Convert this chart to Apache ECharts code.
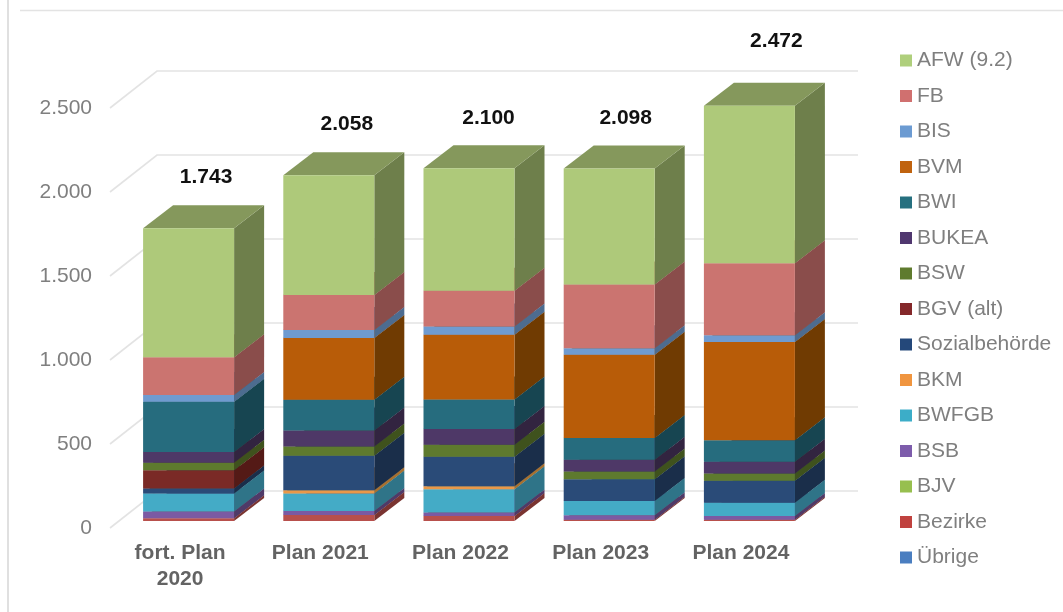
<!DOCTYPE html>
<html>
<head>
<meta charset="utf-8">
<style>html,body{margin:0;padding:0;background:#fff}#c{width:1063px;height:612px}</style>
<script src="https://cdn.jsdelivr.net/npm/echarts@6/dist/echarts.min.js"></script>
</head>
<body>
<div id="c"></div>
<script>
var categories = ['fort. Plan\n2020', 'Plan 2021', 'Plan 2022', 'Plan 2023', 'Plan 2024'];
var totals = [1743, 2058, 2100, 2098, 2472];
var yTicks = [0, 500, 1000, 1500, 2000, 2500];
var legendOrder = ['AFW (9.2)','FB','BIS','BVM','BWI','BUKEA','BSW','BGV (alt)','Sozialbehörde','BKM','BWFGB','BSB','BJV','Bezirke','Übrige'];

var uebrige = [0, 0, 0, 0, 0];
var bezirke = [16, 36, 30, 8, 8];
var bjv = [0, 0, 0, 0, 0];
var bsb = [40, 24, 20, 26, 22];
var bwfgb = [107, 103, 139, 85, 79];
var bkm = [0, 20, 18, 0, 0];
var sozial = [30, 206, 176, 129, 131];
var bgv = [109, 0, 0, 0, 0];
var bsw = [44, 55, 71, 46, 42];
var bukea = [65, 95, 93, 71, 71];
var bwi = [299, 182, 176, 129, 127];
var bvm = [0, 368, 386, 495, 586];
var bis = [40, 48, 48, 40, 40];
var fb = [224, 208, 214, 379, 428];
var afw = [769, 713, 729, 690, 938];

// bottom-to-top stacking: name, values, front / top / side colour
var stackOrder = [
  ['Übrige', uebrige, '#4478B8', '#35608F', '#2B4E75'],
  ['Bezirke', bezirke, '#B8504C', '#8F3E3B', '#7A3431'],
  ['BJV', bjv, '#96BC50', '#75923E', '#5F7832'],
  ['BSB', bsb, '#7B5AA3', '#60467F', '#4F3A68'],
  ['BWFGB', bwfgb, '#44ABC6', '#35859A', '#2F7488'],
  ['BKM', bkm, '#E99849', '#B57639', '#A8702F'],
  ['Sozialbehörde', sozial, '#2A4B78', '#213A5D', '#1A2E4A'],
  ['BGV (alt)', bgv, '#7A2A26', '#5F211E', '#541A16'],
  ['BSW', bsw, '#5E7A2E', '#495F24', '#3F521D'],
  ['BUKEA', bukea, '#4E3867', '#3D2C50', '#322440'],
  ['BWI', bwi, '#266C7E', '#1E5462', '#174551'],
  ['BVM', bvm, '#B85C08', '#8F4706', '#703B02'],
  ['BIS', bis, '#6F9BD0', '#5679A2', '#4D6C90'],
  ['FB', fb, '#CB7470', '#9E5A57', '#8A4D4B'],
  ['AFW (9.2)', afw, '#AEC97A', '#85985C', '#6E7F4B']
];

var legendColors = {'AFW (9.2)':'#AFCF7C','FB':'#D0706F','BIS':'#6C9BD2','BVM':'#C0630F','BWI':'#26707F','BUKEA':'#50376F','BSW':'#5F7B2E','BGV (alt)':'#84282A','Sozialbehörde':'#24487A','BKM':'#F0953F','BWFGB':'#3CADC8','BSB':'#7D5CAB','BJV':'#97BF4F','Bezirke':'#C0423F','Übrige':'#4A7EC0'};

// label offsets for the totals, relative to the back centre of the bar top
var totalDx = [2.5, 3, 4.5, 1.5, 12];
var totalDy = [-28, -28, -27, -27, -42];

var GRID = {left: 110, right: 252, top: 108, bottom: 84};
var DEPTH_X = 47, DEPTH_Y = 37;   // wall offset
var BAR_DX = 8.5, BAR_DY = 7;     // bar offset from the front plane
var BAR_W = 91, BAR_DEPTH_X = 30, BAR_DEPTH_Y = 23;

var series = [];

series.push({
  type: 'custom', name: 'wall', silent: true, clip: false,
  encode: {x: 0, y: 1},
  data: yTicks.map(function (t) { return [0, t]; }),
  renderItem: function (params, api) {
    var cs = params.coordSys;
    var y = api.coord([0, api.value(1)])[1];
    var x0 = cs.x, x1 = cs.x + DEPTH_X, x2 = cs.x + cs.width + DEPTH_X, y1 = y - DEPTH_Y;
    return {
      type: 'polyline',
      shape: {points: [[x0, y], [x1, y1], [x2, y1]]},
      style: {stroke: '#E3E3E3', lineWidth: 1.6, fill: null}
    };
  }
});

var running = [0, 0, 0, 0, 0];
stackOrder.forEach(function (s) {
  var rows = s[1].map(function (v, i) {
    var row = [i, running[i], v];
    running[i] += v;
    return row;
  });
  series.push({
    type: 'custom', name: s[0], clip: false, silent: true,
    itemStyle: {color: legendColors[s[0]]},
    encode: {x: 0, y: 1},
    data: rows,
    renderItem: function (params, api) {
      var value = api.value(2);
      if (!value) return null;
      var i = api.value(0), base = api.value(1);
      var cx = api.coord([i, 0])[0] + BAR_DX;
      var yb = api.coord([i, base])[1] - BAR_DY;
      var yt = api.coord([i, base + value])[1] - BAR_DY;
      var xl = cx - BAR_W / 2, xr = cx + BAR_W / 2;
      var dx = BAR_DEPTH_X, dy = BAR_DEPTH_Y;
      return {
        type: 'group',
        children: [
          {type: 'polygon', shape: {points: [[xr, yb], [xr + dx, yb - dy], [xr + dx, yt - dy], [xr, yt]]}, style: {fill: s[4]}},
          {type: 'polygon', shape: {points: [[xl, yt], [xl + dx, yt - dy], [xr + dx, yt - dy], [xr, yt]]}, style: {fill: s[3]}},
          {type: 'rect', shape: {x: xl, y: yt, width: BAR_W, height: yb - yt}, style: {fill: s[2]}}
        ]
      };
    }
  });
});

series.push({
  type: 'custom', name: 'total', clip: false, silent: true,
  encode: {x: 0, y: 1},
  data: totals.map(function (t, i) { return [i, t]; }),
  renderItem: function (params, api) {
    var i = api.value(0), t = api.value(1);
    var p = api.coord([i, t]);
    return {
      type: 'text',
      style: {
        text: String(t).replace(/(\d)(\d{3})$/, '$1.$2'),
        x: p[0] + BAR_DX + BAR_DEPTH_X / 2 + totalDx[i],
        y: p[1] - BAR_DY - BAR_DEPTH_Y + totalDy[i],
        align: 'center', verticalAlign: 'middle',
        font: 'bold 21px "Liberation Sans", Arial, sans-serif',
        fill: '#111'
      }
    };
  }
});

var chart = echarts.init(document.getElementById('c'), null, {renderer: 'canvas'});
chart.setOption({
  animation: false,
  backgroundColor: '#fff',
  grid: GRID,
  xAxis: {
    type: 'category', data: categories,
    axisLine: {show: false}, axisTick: {show: false}, splitLine: {show: false},
    axisLabel: {
      margin: 12, interval: 0, lineHeight: 26,
      fontFamily: '"Liberation Sans", Arial, sans-serif', fontWeight: 'bold', fontSize: 21, color: '#636363'
    }
  },
  yAxis: {
    type: 'value', min: 0, max: 2500, interval: 500,
    axisLine: {show: false}, axisTick: {show: false}, splitLine: {show: false},
    axisLabel: {
      margin: 18, padding: [0, 0, 4, 0],
      fontFamily: '"Liberation Sans", Arial, sans-serif', fontSize: 21, color: '#7F7F7F',
      formatter: function (v) { return String(v).replace(/(\d)(\d{3})$/, '$1.$2'); }
    }
  },
  legend: {
    orient: 'vertical', left: 895, top: 45,
    data: legendOrder, icon: 'rect', itemWidth: 12, itemHeight: 12, itemGap: 14.5,
    selectedMode: false,
    textStyle: {fontFamily: '"Liberation Sans", Arial, sans-serif', fontSize: 21, lineHeight: 20, color: '#7F7F7F'}
  },
  graphic: [
    {type: 'line', silent: true, shape: {x1: 8, y1: 0, x2: 8, y2: 612}, style: {stroke: '#D9D9D9', lineWidth: 1.6}},
    {type: 'line', silent: true, shape: {x1: 20, y1: 10.5, x2: 1063, y2: 10.5}, style: {stroke: '#E3E3E3', lineWidth: 1.4}}
  ],
  series: series
});
</script>
</body>
</html>
